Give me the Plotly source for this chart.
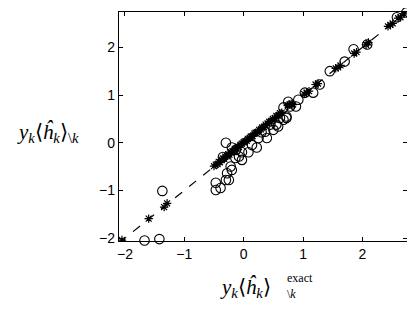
import plotly.graph_objects as go

# Open circles
circle_x = [-1.67, -1.42, -1.37, -0.47, -0.47, -0.39, -0.30, -0.22, -0.28, -0.30, -0.25, -0.20,
            -0.14, -0.13, -0.03, -0.03, 0.08, 0.22, 0.14, 0.39, 0.50, 0.61, 0.72, 0.78,
            1.03, 1.17, -0.20, -0.08, 0.25, 0.36, 0.58, 0.67, 0.75, 0.92, 0.67, 0.72, 0.55,
            0.88, 1.28, 1.45, 1.70, 1.85, 2.08, 2.58, 2.74, -0.35, 0.30, 0.45]
circle_y = [-2.05, -2.02, -1.01, -0.84, -0.99, -0.95, 0.00, -0.50, -0.64, -0.78, -0.78, -0.57,
            -0.32, -0.15, -0.20, -0.36, -0.20, -0.10, -0.05, 0.10, 0.27, 0.52, 0.52, 0.76,
            1.05, 1.05, -0.10, -0.29, 0.10, 0.23, 0.34, 0.48, 0.86, 0.90, 0.74, 0.55, 0.38,
            0.76, 1.22, 1.50, 1.70, 1.96, 2.06, 2.63, 2.73, -0.30, 0.22, 0.38]

# Asterisks
star_x = [-2.05, -1.60, -1.34, -1.29, -0.50, -0.47, -0.44, -0.42, -0.40, -0.37, -0.35, -0.33,
          -0.31, -0.28, -0.26, -0.24, -0.21, -0.19, -0.17, -0.15, -0.12, -0.10, -0.08, -0.05,
          -0.03, 0.00, 0.02, 0.05, 0.07, 0.10, 0.12, 0.15, 0.18, 0.20, 0.23, 0.26, 0.29, 0.31,
          0.34, 0.37, 0.40, 0.43, 0.46, 0.49, 0.52, 0.55, 0.58, 0.61, 0.64, 0.74, 0.77, 0.80,
          0.83, 1.02, 1.06, 1.10, 1.21, 1.25, 1.55, 1.59, 1.63, 1.86, 1.90, 2.06, 2.10, 2.43,
          2.47, 2.51, 2.60, 2.64, 2.70]
star_y = [-2.04, -1.59, -1.35, -1.27, -0.49, -0.46, -0.45, -0.40, -0.41, -0.36, -0.33, -0.34,
          -0.29, -0.28, -0.24, -0.25, -0.20, -0.18, -0.18, -0.13, -0.12, -0.08, -0.09, -0.04,
          -0.02, 0.01, 0.03, 0.04, 0.08, 0.10, 0.13, 0.14, 0.19, 0.21, 0.22, 0.27, 0.28, 0.32,
          0.33, 0.38, 0.40, 0.44, 0.45, 0.50, 0.51, 0.56, 0.57, 0.62, 0.63, 0.78, 0.80, 0.82,
          0.80, 1.02, 1.05, 1.08, 1.22, 1.24, 1.56, 1.58, 1.62, 1.87, 1.90, 2.05, 2.10, 2.44,
          2.47, 2.50, 2.61, 2.63, 2.70]

diag = [-2.1, 2.75]
x_range = [-2.1, 2.75]
y_range = [-2.06, 2.74]
tick_vals = [-2, -1, 0, 1, 2]

fig = go.Figure()
fig.add_trace(go.Scatter(x=diag, y=diag, mode="lines",
                         line=dict(color="black", width=1.2, dash="dash"),
                         showlegend=False, hoverinfo="skip"))
fig.add_trace(go.Scatter(x=star_x, y=star_y, mode="markers",
                         marker=dict(symbol="asterisk-open", size=7, color="black",
                                     line=dict(color="black", width=1.2)),
                         showlegend=False))
fig.add_trace(go.Scatter(x=circle_x, y=circle_y, mode="markers",
                         marker=dict(symbol="circle-open", size=9.5, color="black",
                                     line=dict(color="black", width=1.1)),
                         showlegend=False, cliponaxis=False))

axis_common = dict(showgrid=False, zeroline=False, showline=True, linecolor="black",
                   linewidth=1.3, mirror="ticks", ticks="inside", ticklen=4,
                   tickcolor="black", tickvals=tick_vals, automargin=False,
                   tickfont=dict(family="Liberation Sans, Arial", size=14, color="black"))
fig.update_xaxes(range=x_range, **axis_common)
fig.update_yaxes(range=y_range, **axis_common)

serif = dict(family="Liberation Serif, Times New Roman, serif", color="black")
fig.add_annotation(xref="paper", yref="paper", x=-0.36, y=0.472, xanchor="left",
                   yanchor="middle", showarrow=False,
                   text="<i>y</i><sub><i>k</i></sub>⟨<i>ĥ</i><sub><i>k</i></sub>⟩<sub>\\<i>k</i></sub>",
                   font=dict(size=21, **serif))
fig.add_annotation(xref="paper", yref="paper", x=0.345, y=-0.205, xanchor="left",
                   yanchor="middle", showarrow=False,
                   text="<i>y</i><sub><i>k</i></sub>⟨<i>ĥ</i><sub><i>k</i></sub>⟩",
                   font=dict(size=21, **serif))
fig.add_annotation(xref="paper", yref="paper", x=0.578, y=-0.163, xanchor="left",
                   yanchor="middle", showarrow=False, text="exact",
                   font=dict(size=12, **serif))
fig.add_annotation(xref="paper", yref="paper", x=0.578, y=-0.233, xanchor="left",
                   yanchor="middle", showarrow=False, text="\\<i>k</i>",
                   font=dict(size=12, **serif))

# page body adds an 8 px offset; size the figure so it fits the window without scrolling
fig.update_layout(width=399, height=294, margin=dict(l=111, r=0, t=4, b=61),
                  paper_bgcolor="white", plot_bgcolor="white")
fig.write_html("out.html")
